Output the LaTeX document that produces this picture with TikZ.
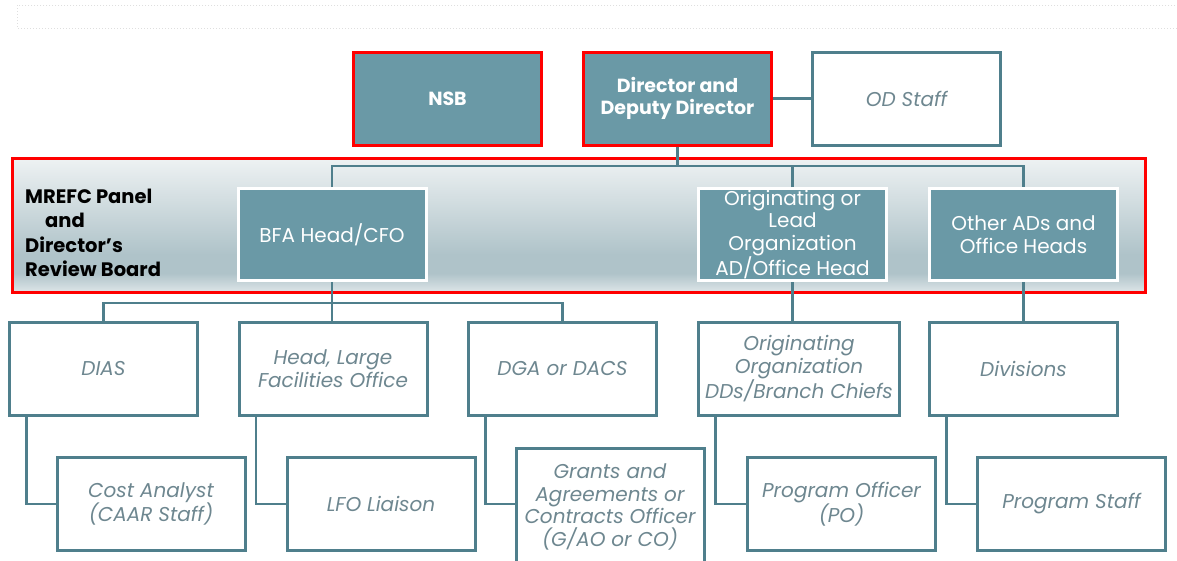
\documentclass[tikz,border=0pt]{standalone}
\usepackage{fontspec}
\setmainfont{Poppins}
\usetikzlibrary{shapes}
\definecolor{tealfill}{HTML}{6A99A6}
\definecolor{tealline}{HTML}{4F7F8C}
\definecolor{txtgray}{HTML}{6E8790}
\definecolor{boardred}{HTML}{FF0000}
\definecolor{pantop}{HTML}{EEF2F3}
\definecolor{panband}{HTML}{AFC3C9}
\definecolor{panbot}{HTML}{DDE5E8}
\pgfdeclareverticalshading{panelshade}{100bp}{color(0bp)=(panbot); color(25bp)=(panbot); color(32bp)=(panband); color(39bp)=(panband); color(75bp)=(pantop); color(100bp)=(pantop)}
\tikzset{
	orgnode/.style = {
		rectangle,
		align=center,
		inner sep=0pt,
		font=\fontsize{20}{22.7}\selectfont,
		minimum width=188pt,
		minimum height=93pt,
		line width=3pt
	},
	node_head/.style = {
		orgnode,
		fill=tealfill,
		draw=boardred,
		text=white,
		font=\fontsize{19}{22}\selectfont\bfseries
	},
	node_ad/.style = {
		orgnode,
		fill=tealfill,
		draw=white,
		text=white,
		minimum height=92pt
	},
	node_staff/.style = {
		orgnode,
		fill=white,
		draw=tealline,
		text=txtgray,
		font=\fontsize{20}{22.7}\selectfont\itshape
	},
	node_board/.style = {
		rectangle,
		inner sep=0pt,
		draw=boardred,
		line width=3pt,
		shading=panelshade,
		minimum width=1133pt,
		minimum height=134pt
	},
	link/.style = {
		draw=tealline,
		line width=2.5pt
	},
}

\begin{document}
\begin{tikzpicture}[x=1pt, y=-1pt]
\useasboundingbox (0,0) rectangle (1177,560);
\draw[gray!25, dotted, line width=1pt] (17,5) rectangle (1182,28);

\node (board) [node_board] at (578.5,225) {};
\node (boardtxt) [anchor=west, align=left, inner sep=0pt, font=\fontsize{19.5}{24.3}\selectfont\bfseries] at (25,233)
	{MREFC Panel\\\hspace*{20pt}and\\Director's\\Review Board};

\node (nsb) [node_head] at (447.5,98.5) {NSB};
\node (dir) [node_head] at (677.5,98.5) {Director and\\Deputy Director};
\node (od) [node_staff] at (906.5,98.5) {OD Staff};

\node (bfa) [node_ad] at (332,234.5) {BFA Head/CFO};
\node (orig) [node_ad] at (792.5,234.5) {Originating or\\Lead\\Organization\\AD/Office Head};
\node (other) [node_ad] at (1023.5,234.5) {Other ADs and\\Office Heads};

\node (dias) [node_staff] at (103.5,369) {DIAS};
\node (lfo) [node_staff] at (333,369) {Head, Large\\Facilities Office};
\node (dga) [node_staff] at (562.5,369) {DGA or DACS};
\node (origdd) [node_staff, minimum width=201pt] at (799,369) {Originating\\Organization\\DDs/Branch Chiefs};
\node (div) [node_staff] at (1023.5,369) {Divisions};

\node (cost) [node_staff] at (151,504) {Cost Analyst\\(CAAR Staff)};
\node (liaison) [node_staff] at (381,504) {LFO Liaison};
\node (grants) [node_staff, minimum height=117pt] at (610,507) {Grants and\\Agreements or\\Contracts Officer\\(G/AO or CO)};
\node (po) [node_staff] at (841.5,504) {Program Officer\\(PO)};
\node (pstaff) [node_staff] at (1071.5,504) {Program Staff};

\coordinate (bus1) at (677.5,166);
\coordinate (bus2) at (332,303);

\draw[link] (dir.east) -- (od.west);
\draw[link] (dir.south) -- (bus1);
\draw[link] (bfa.north) |- (bus1) -| (other.north);
\draw[link] (orig.north) -- (orig.north |- bus1);

\draw[link] (bfa.south) -- (bfa.south |- lfo.north);
\draw[link] (dias.north) |- (bus2) -| (dga.north);
\draw[link] (orig.south) -- (orig.south |- origdd.north);
\draw[link] (other.south) -- (div.north);

\draw[link] ([xshift=18.5pt]dias.south west) |- (cost.west);
\draw[link] ([xshift=18.5pt]lfo.south west) |- (liaison.west);
\draw[link] ([xshift=18.5pt]dga.south west) |- (grants.west |- cost.west);
\draw[link] ([xshift=18.5pt]origdd.south west) |- (po.west);
\draw[link] ([xshift=18.5pt]div.south west) |- (pstaff.west);
\end{tikzpicture}
\end{document}
